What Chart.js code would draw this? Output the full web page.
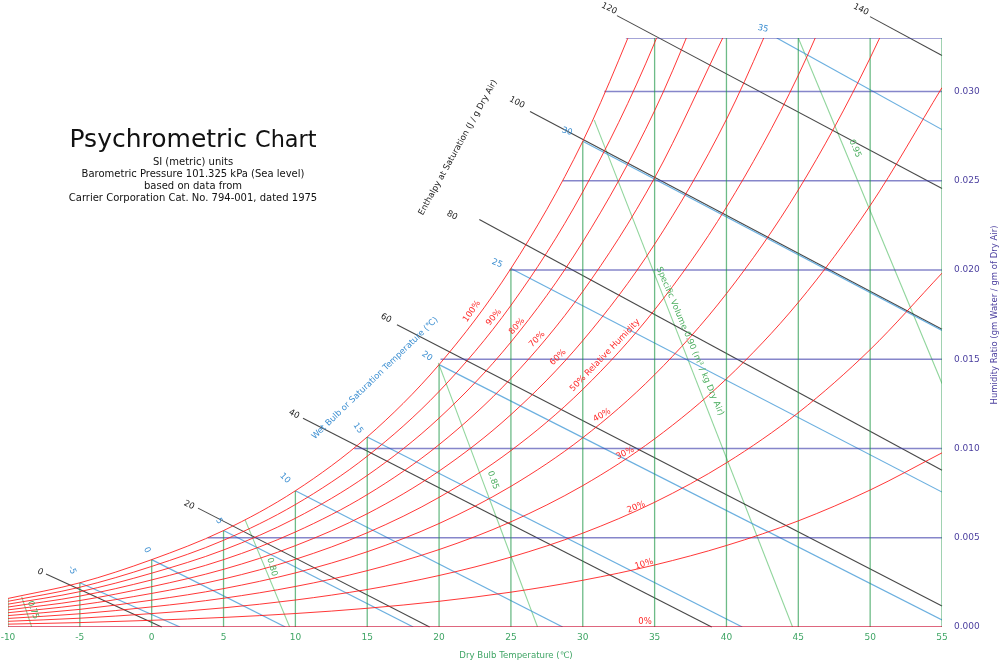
<!DOCTYPE html>
<html><head><meta charset="utf-8">
<script src="https://cdn.jsdelivr.net/npm/chart.js@4.4.1/dist/chart.umd.min.js"></script>
<style>html,body{margin:0;padding:0;background:#fff;overflow:hidden}#wrap{width:1000px;height:669px}</style>
</head><body><div id="wrap"><canvas id="c" width="1000" height="669"></canvas></div>
<script>
// ---------- data (dry bulb °C, humidity ratio kg/kg) ----------
const dryBulbTicks = [-10,-5,0,5,10,15,20,25,30,35,40,45,50,55];
const humidityTicks = [0,0.005,0.010,0.015,0.020,0.025,0.030];

// relative humidity curves, values at rhTemps (each list stops one step past the chart top)
const rhTemps = [-10,-5,0,5,10,15,20,25,30,35,40,45,50,55];
const rh10  = [0.0001596,0.0002467,0.0003754,0.0005361,0.0007549,0.0010488,0.0014393,0.0019518,0.0026178,0.0034745,0.0045663,0.0059460,0.0076754,0.0097577];
const rh20  = [0.0003194,0.0004937,0.0007513,0.0010732,0.0015116,0.0021012,0.0028852,0.0039160,0.0052579,0.0069881,0.0092002,0.012007,0.015543,0.019826];
const rh30  = [0.0004792,0.0007408,0.0011276,0.0016111,0.0022701,0.0031572,0.0043379,0.0058926,0.0079203,0.010541,0.013903,0.018186,0.023609,0.030221];
const rh40  = [0.0006391,0.0009882,0.0015044,0.0021500,0.0030305,0.0042167,0.0057974,0.0078817,0.0106054,0.014135,0.018677,0.024486,0.031882,0.040959];
const rh50  = [0.0007991,0.0012357,0.0018817,0.0026899,0.0037927,0.0052798,0.0072636,0.0098835,0.0133135,0.017770,0.023522,0.030912,0.040370];
const rh60  = [0.0009591,0.0014834,0.0022594,0.0032307,0.0045568,0.0063465,0.0087368,0.0118980,0.0160449,0.021446,0.028442,0.037467];
const rh70  = [0.0011193,0.0017314,0.0026375,0.0037724,0.0053228,0.0074169,0.0102168,0.0139253,0.0187999,0.025165,0.033437];
const rh80  = [0.0012795,0.0019795,0.0030161,0.0043150,0.0060907,0.0084909,0.0117038,0.0159657,0.0215788,0.028927,0.038509];
const rh90  = [0.0014398,0.0022278,0.0033952,0.0048586,0.0068604,0.0095686,0.0131978,0.0180193,0.0243818,0.032733,0.043661];
const rh100 = [0.0016000,0.0024763,0.0037747,0.0054032,0.0076320,0.0106500,0.0146989,0.0200861,0.0272095,0.036584];
const rhCurves = [rh10,rh20,rh30,rh40,rh50,rh60,rh70,rh80,rh90,rh100];

// dry bulb lines: from W=0 up to the saturation curve / chart top
const dryBulbTopW = [0.0016,0.002476,0.003775,0.005403,0.007632,0.01065,0.0147,0.020086,0.02721,0.033,0.033,0.033,0.033,0.033];

// humidity ratio lines: from saturation to 55 °C
const humidityLevels = [0,0.005,0.010,0.015,0.020,0.025,0.030,0.033];
const humidityStartT = [-10,3.9,14.1,20.1,24.9,28.6,31.5,33.0];

// wet bulb lines
const wetBulbValues = [-5,0,5,10,15,20,25,30,35];
const wetBulbStart = [[-5,0.002476],[0,0.003775],[5,0.005403],[10,0.007632],[15,0.01065],[20,0.0147],[25,0.020086],[30,0.02721],[43.5,0.033]];
const wetBulbEnd   = [[1.97,0],[9.3,0],[18.2,0],[28.6,0],[41.1,0],[55,0.00039],[55,0.00756],[55,0.01661],[55,0.02787]];

// enthalpy lines (kJ/kg)
const enthalpyValues = [0,20,40,60,80,100,120,140];
const enthalpyStart = [[-7.355,0.002966],[3.223,0.00666],[10.53,0.011698],[17.07,0.016936],[22.8,0.022836],[26.33,0.02888],[32.38,0.034253],[49.99,0.034197]];
const enthalpyEnd   = [[0.697,0],[19.34,0],[38.97,0],[55,0.001175],[55,0.008787],[55,0.016679],[55,0.02457],[55,0.032015]];

// specific volume lines (m3/kg)
const volumeValues = [0.75,0.80,0.85,0.90,0.95];
const volumeStart = [[-9.05,0.001696],[6.5,0.006],[19.95,0.0148],[30.8,0.0284],[45.0,0.033]];
const volumeEnd   = [[-8.35,0],[9.6,0],[26.85,0],[44.6,0],[55,0.01364]];

// ---------- text annotations: [text, T, W, angle°, kind] ----------
const chartLabels = [
  ['0',-7.77,0.003078,27,'h'],['20',2.60,0.006828,27,'h'],['40',9.90,0.011921,27,'h'],['60',16.31,0.017295,27,'h'],
  ['80',20.90,0.02306,27,'h'],['100',25.42,0.029384,27,'h'],['120',31.83,0.034645,27,'h'],['140',49.36,0.034589,27,'h'],
  ['-5',-5.546,0.00319,68,'wb'],['0',-0.326,0.00431,62,'wb'],['5',4.684,0.005933,57,'wb'],['10',9.277,0.00834,45,'wb'],
  ['15',14.358,0.011138,55,'wb'],['20',19.16,0.015168,35,'wb'],['25',24.03,0.020373,22,'wb'],['30',28.90,0.027761,18,'wb'],['35',42.54,0.033526,12,'wb'],
  ['100%',22.29,0.017686,-55,'rh'],['90%',23.82,0.017351,-50,'rh'],['80%',25.42,0.016847,-48,'rh'],['70%',26.82,0.016119,-45,'rh'],
  ['60%',28.28,0.015112,-44,'rh'],['50% Relative Humidity',31.55,0.015224,-46,'rh'],['40%',31.34,0.011866,-31,'rh'],
  ['30%',32.94,0.009739,-25,'rh'],['20%',33.71,0.006716,-22,'rh'],['10%',34.26,0.003526,-18,'rh'],['0%',34.33,0.00028,0,'rh'],
  ['0.75',-8.26,0.000951,70,'v'],['0.80',8.37,0.003358,74,'v'],['0.85',23.75,0.008227,70,'v'],
  ['Specific Volume 0.90 (m\u00B3 / kg Dry Air)',37.46,0.016007,67,'v'],['0.95',48.95,0.026809,67,'v'],
  ['Wet Bulb or Saturation Temperature (\u2103)',15.54,0.013936,-44,'wb'],
  ['Enthalpy at Saturation (J / g Dry Air)',21.32,0.026865,-61,'h']
];

// ---------- styles ----------
const FONT = "'DejaVu Sans', sans-serif";
const C = {
  rh:'rgba(255,20,20,0.85)', wb:'rgba(70,155,215,0.8)', h:'rgba(0,0,0,0.72)', db:'rgba(30,150,70,0.65)',
  v:'rgba(70,185,90,0.6)', w:'rgba(60,60,170,0.62)',
  rhText:'#ff2a2a', wbText:'#3d8fd1', hText:'#222', vText:'#4cae5f', axisX:'#3fa565', axisY:'#4b3f9f'
};
const textColor = {h:C.hText, wb:C.wbText, rh:C.rhText, v:C.vText};

// ---------- datasets ----------
const pts = (a,b)=>[{x:a[0],y:a[1]},{x:b[0],y:b[1]}];
const datasets = [];
const line = (data,color,width,extra)=>Object.assign({data,borderColor:color,borderWidth:width,showLine:true,pointRadius:0,fill:false},extra||{});

rhCurves.forEach(arr=>datasets.push(line(arr.map((w,i)=>({x:rhTemps[i],y:w})),C.rh,1,{cubicInterpolationMode:'monotone'})));
datasets.push(line(pts([-10,0],[55,0]),'rgba(200,0,40,0.8)',1.5));
dryBulbTicks.forEach((t,i)=>datasets.push(line(pts([t,0],[t,dryBulbTopW[i]]),C.db,1.3)));
humidityLevels.forEach((w,i)=>{ if(w>0) datasets.push(line(pts([humidityStartT[i],w],[55,w]),C.w,1.6)); });
wetBulbValues.forEach((v,i)=>datasets.push(line(pts(wetBulbStart[i],wetBulbEnd[i]),C.wb,1.2)));
enthalpyValues.forEach((v,i)=>datasets.push(line(pts(enthalpyStart[i],enthalpyEnd[i]),C.h,1.1,{clip:false})));
volumeValues.forEach((v,i)=>datasets.push(line(pts(volumeStart[i],volumeEnd[i]),C.v,1.1)));

function drawText(ctx,text,x,y,deg,size,color,align){
  ctx.save();
  ctx.translate(x,y);
  ctx.rotate(deg*Math.PI/180);
  ctx.font = size+'px '+FONT;
  ctx.fillStyle = color;
  ctx.textAlign = align||'center';
  ctx.textBaseline = 'middle';
  ctx.fillText(text,0,0);
  ctx.restore();
}

const textPlugin = {
  id:'psyText',
  afterDraw(chart){
    const {ctx, scales:{x,y}} = chart;
    chartLabels.forEach(([t,T,W,deg,kind])=>{
      drawText(ctx,t,x.getPixelForValue(T),y.getPixelForValue(W),deg,8.5,textColor[kind]);
    });
    // title block
    ctx.save();
    ctx.fillStyle='#111';
    ctx.textBaseline='alphabetic';
    ctx.font='25px '+FONT; const w1=ctx.measureText('Psychrometric ').width;
    ctx.font='22.4px '+FONT; const w2=ctx.measureText('Chart').width;
    const cx=193, x0=cx-(w1+w2)/2;
    ctx.font='25px '+FONT; ctx.textAlign='left'; ctx.fillText('Psychrometric',x0,147);
    ctx.font='22.4px '+FONT; ctx.fillText('Chart',x0+w1,147);
    ctx.restore();
    const sub=['SI (metric) units','Barometric Pressure 101.325 kPa (Sea level)','based on data from','Carrier Corporation Cat. No. 794-001, dated 1975'];
    sub.forEach((s,i)=>drawText(ctx,s,193,162+i*12.3,0,10,'#111'));
    // axis titles
    drawText(ctx,'Dry Bulb Temperature (\u2103)',516,656,0,8.6,C.axisX);
    drawText(ctx,'Humidity Ratio (gm Water / gm of Dry Air)',995,315,-90,8.5,C.axisY);
  }
};

Chart.defaults.font.family = FONT;
new Chart(document.getElementById('c'),{
  type:'scatter',
  data:{datasets},
  options:{
    responsive:false, animation:false, devicePixelRatio:1,
    layout:{padding:{left:8,top:38,right:0,bottom:0}},
    plugins:{legend:{display:false},tooltip:{enabled:false}},
    scales:{
      x:{type:'linear',position:'bottom',min:-10,max:55,
        grid:{display:false,drawTicks:false}, border:{display:false},
        ticks:{stepSize:5,color:C.axisX,font:{size:9},padding:5,autoSkip:false,maxRotation:0},
        afterBuildTicks:s=>{s.ticks=dryBulbTicks.map(v=>({value:v}));},
        afterFit:s=>{s.height=42; s.paddingLeft=0; s.paddingRight=0;}},
      y:{type:'linear',position:'right',min:0,max:0.033,
        grid:{display:false,drawTicks:false}, border:{display:false},
        ticks:{color:C.axisY,font:{size:9},padding:12,callback:v=>v.toFixed(3)},
        afterBuildTicks:s=>{s.ticks=humidityTicks.map(v=>({value:v}));},
        afterFit:s=>{s.width=58; s.paddingTop=0; s.paddingBottom=0;}}
    }
  },
  plugins:[textPlugin]
});
</script></body></html>
